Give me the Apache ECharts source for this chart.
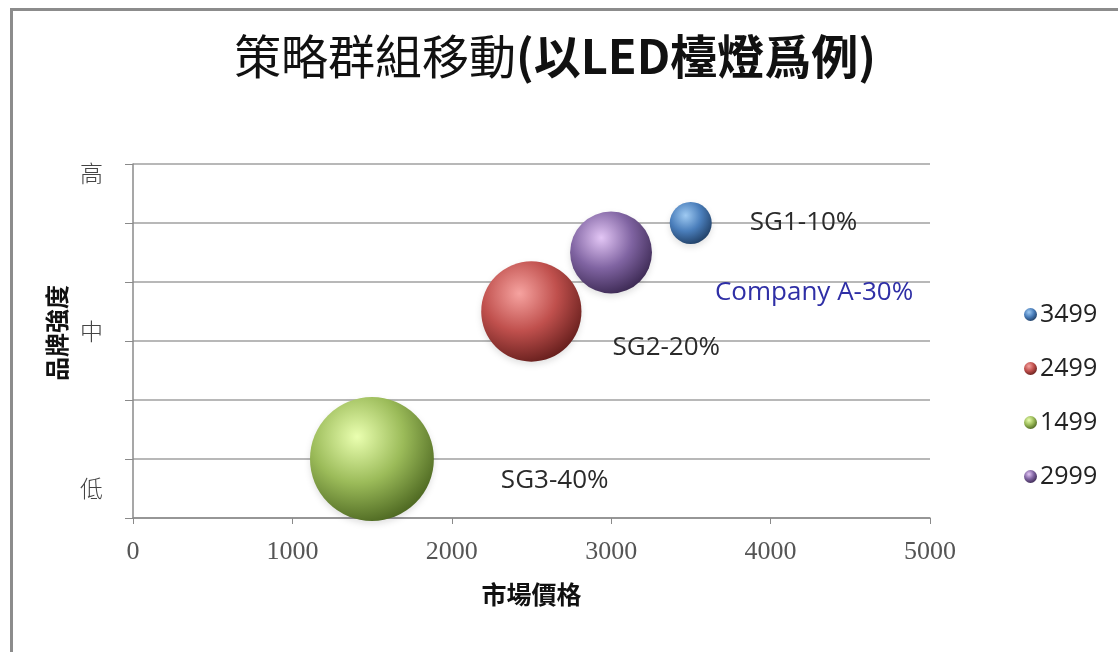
<!DOCTYPE html>
<html>
<head>
<meta charset="utf-8">
<script src="https://cdn.jsdelivr.net/npm/echarts@6/dist/echarts.min.js"></script>
<style>
html,body{margin:0;padding:0;background:#fff;}
#frame{position:absolute;left:10px;top:8px;width:1200px;height:700px;border-left:3px solid #8c8c8c;border-top:3px solid #8c8c8c;box-sizing:border-box;}
#chart{position:absolute;left:0;top:0;width:1118px;height:652px;}
</style>
</head>
<body>
<div id="frame"></div>
<div id="chart"></div>
<script>
// ---- data ----
const seriesNames = ['3499', '2499', '1499', '2999'];
const priceValues = [3499, 2499, 1499, 2999];          // 市場價格 (x)
const brandValues = [5, 3.5, 1, 4.5];                   // 品牌強度 (y)
const bubbleSizes = [10, 57, 87, 38];                   // bubble size values
const pointLabels = ['SG1-10%', 'SG2-20%', 'SG3-40%', 'Company A-30%'];
const xTicks = [0, 1000, 2000, 3000, 4000, 5000];
const yLabelValues = [0.5, 3.17, 5.85];
const yLabelTexts = ['低', '中', '高'];
const titleMain = '策略群組移動';
const titleSub = '(以LED檯燈爲例)';
const xName = '市場價格';
const yName = '品牌強度';

// ---- styles ----
const palette = [
  ['#9fcaf2', '#4a7ebb', '#1d3a5e'],
  ['#f6a3a0', '#c0504d', '#5e1a18'],
  ['#eaffb0', '#9bbb59', '#46601c'],
  ['#e3c6f5', '#8064a2', '#36244c']
];
const labelOffsets = [[38, 0], [31, 36], [67, 22], [63, 40]];
const labelColors = ['#2a2a2a', '#2a2a2a', '#2a2a2a', '#2f2fa6'];

function grad(c) {
  return {
    type: 'radial', x: 0.38, y: 0.32, r: 0.75,
    colorStops: [
      { offset: 0, color: c[0] },
      { offset: 0.5, color: c[1] },
      { offset: 1, color: c[2] }
    ]
  };
}

const series = seriesNames.map((name, i) => ({
  name: name,
  type: 'scatter',
  data: [[priceValues[i], brandValues[i], bubbleSizes[i]]],
  symbolSize: d => Math.sqrt(d[2]) * 13.28,
  itemStyle: {
    color: grad(palette[i]),
    opacity: 1,
    shadowBlur: 6, shadowColor: 'rgba(0,0,0,0.12)', shadowOffsetY: 3
  },
  label: {
    show: true,
    position: 'right',
    distance: 0,
    offset: labelOffsets[i],
    formatter: () => pointLabels[i],
    fontFamily: 'Open Sans',
    fontSize: 26,
    color: labelColors[i]
  },
  emphasis: { disabled: true }
}));

const chart = echarts.init(document.getElementById('chart'), null, { renderer: 'canvas' });
chart.setOption({
  animation: false,
  backgroundColor: 'transparent',
  title: {
    text: '{a|' + titleMain + '}{b|' + titleSub + '}',
    left: 550, top: 28, textAlign: 'center',
    textStyle: {
      rich: {
        a: { fontFamily: 'Noto Sans CJK TC', fontSize: 47, fontWeight: 'normal', color: '#111' },
        b: { fontFamily: 'Noto Sans CJK TC', fontSize: 47, fontWeight: 'bold', color: '#111' }
      }
    }
  },
  legend: {
    orient: 'vertical',
    left: 1019, top: 297,
    itemWidth: 13, itemHeight: 13, itemGap: 29,
    icon: 'circle',
    data: seriesNames,
    textStyle: { fontFamily: 'Open Sans', fontSize: 25, color: '#222', lineHeight: 25, padding: [0, 0, 0, -2] }
  },
  grid: { left: 133, right: 188, top: 164, bottom: 134 },
  xAxis: {
    type: 'value', min: 0, max: 5000, interval: 1000,
    name: xName, nameLocation: 'middle', nameGap: 64,
    nameTextStyle: { fontFamily: 'Noto Sans CJK TC', fontSize: 25, fontWeight: 'bold', color: '#111' },
    axisLine: { show: true, lineStyle: { color: '#8a8a8a', width: 1.5 } },
    axisTick: { show: true, length: 6, lineStyle: { color: '#8a8a8a' } },
    splitLine: { show: false },
    axisLabel: {
      margin: 21, fontFamily: 'Liberation Serif', fontSize: 26, color: '#555',
      formatter: v => xTicks.includes(v) ? String(v) : ''
    }
  },
  yAxis: {
    type: 'value', min: 0, max: 6, interval: 1,
    name: yName, nameLocation: 'middle', nameGap: 64, nameRotate: 90,
    nameTextStyle: { fontFamily: 'Noto Sans CJK TC', fontSize: 24, fontWeight: 'bold', color: '#111', padding: [0, 0, 0, 16] },
    axisLine: { show: true, lineStyle: { color: '#8a8a8a', width: 1.5 } },
    axisTick: { show: true, inside: false, length: 8, lineStyle: { color: '#8a8a8a' }, customValues: [0, 1, 2, 3, 4, 5, 6] },
    splitLine: { show: true, lineStyle: { color: '#a0a0a0', width: 1.5 } },
    axisLabel: {
      margin: 30, fontFamily: 'Noto Sans CJK TC', fontWeight: 300, fontSize: 23, color: '#444',
      customValues: yLabelValues,
      formatter: v => {
        const k = yLabelValues.findIndex(y => Math.abs(y - v) < 1e-6);
        return k >= 0 ? yLabelTexts[k] : '';
      }
    }
  },
  series: series
});
</script>
</body>
</html>
